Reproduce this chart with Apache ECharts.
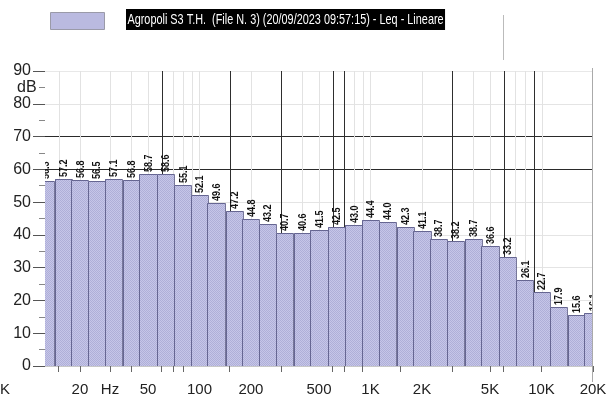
<!DOCTYPE html>
<html><head><meta charset="utf-8">
<script src="https://cdn.jsdelivr.net/npm/echarts@6/dist/echarts.min.js"></script>
<style>html,body{margin:0;padding:0;background:#fff}#c{width:616px;height:400px}</style>
</head><body><div id="c"></div>
<script>
const seriesName = 'Agropoli S3 T.H.  (File N. 3) (20/09/2023 09:57:15) - Leq - Lineare';
const bandFreqs = [12.5,16,20,25,31.5,40,50,63,80,100,125,160,200,250,315,400,500,630,800,1000,1250,1600,2000,2500,3150,4000,5000,6300,8000,10000,12500,16000,20000];
const levels = [56.3,57.2,56.8,56.5,57.1,56.8,58.7,58.6,55.1,52.1,49.6,47.2,44.8,43.2,40.7,40.6,41.5,42.5,43.0,44.4,44.0,42.3,41.1,38.7,38.2,38.7,36.6,33.2,26.1,22.7,17.9,15.6,16.1];
const labelFreqs = [20,30,50,100,200,500,1000,2000,5000,10000,20000];
const labelTexts = ['20','Hz','50','100','200','500','1K','2K','5K','10K','20K'];
const tickFreqs = [15,20,30,40,60,70,80,150,300,600,700,900,1500,3000,5000,6000,10000,20000];
const lightGridFreqs = [15,20,30,40,50,70,80,90,100,200,400,500,800,900,1000,2000,4000,5000,7000,8000,10000];
const darkGridFreqs = [60,150,300,600,700,3000,6000,9000];
const yMin = 0, yMax = 90, yStep = 10;

const FONT = '"Liberation Sans",Arial,sans-serif';
const lg = Math.log10;
const half = 0.05; // half of a 1/3-octave band in log10 units

const pc = document.createElement('canvas'); pc.width = 2; pc.height = 2;
const cx = pc.getContext('2d');
cx.fillStyle = '#c6c6e8'; cx.fillRect(0,0,2,2);
cx.fillStyle = '#afafd8'; cx.fillRect(0,0,1,1); cx.fillRect(1,1,1,1);
const pattern = {image: pc, repeat: 'repeat'};

const chart = echarts.init(document.getElementById('c'), null, {renderer: 'canvas'});
const barData = bandFreqs.map((f,i) => [lg(f), levels[i]]);
const gridData = lightGridFreqs.map(f => [lg(f), 0]).concat(darkGridFreqs.map(f => [lg(f), 1]));

chart.setOption({
  animation: false,
  grid: {left: 45, right: 23, top: 71, bottom: 34},
  xAxis: {
    type: 'value', min: lg(12.5), max: lg(20000),
    axisLine: {show: true, lineStyle: {color: '#c8c8c8'}},
    axisTick: {show: true, length: 6, lineStyle: {color: '#666'}, customValues: tickFreqs.map(lg)},
    axisLabel: {
      customValues: labelFreqs.map(lg), margin: 16,
      fontFamily: FONT, fontSize: 15, color: '#222',
      formatter: v => {
        let best = 0, d = 1e9;
        labelFreqs.forEach((f,i) => { const dd = Math.abs(lg(f) - v); if (dd < d) { d = dd; best = i; } });
        return labelTexts[best];
      }
    },
    splitLine: {show: false}
  },
  yAxis: {
    type: 'value', min: yMin, max: yMax, interval: yStep,
    axisLine: {show: false},
    axisTick: {show: true, length: 12, lineStyle: {color: '#555'}},
    minorTick: {show: true, splitNumber: 2, length: 6, lineStyle: {color: '#888'}},
    axisLabel: {margin: 14, fontFamily: FONT, fontSize: 16, color: '#222'},
    splitLine: {show: true, lineStyle: {width: 1, color: ['#e4e4e4','#e4e4e4','#e4e4e4','#e4e4e4','#e4e4e4','#e4e4e4','#2a2a2a','#2a2a2a','#e4e4e4','#e8e8e8']}}
  },
  series: [
    {
      type: 'custom', name: 'vgrid', z: 1, silent: true, data: gridData,
      renderItem: (params, api) => {
        const p0 = api.coord([api.value(0), yMin]);
        const p1 = api.coord([api.value(0), yMax]);
        const x = Math.round(p0[0]) + 0.5;
        return {type: 'line', shape: {x1: x, y1: p0[1], x2: x, y2: p1[1]},
          style: {stroke: api.value(1) ? '#2e2e2e' : '#e2e2e2', lineWidth: 1}};
      }
    },
    {
      type: 'custom', name: seriesName, z: 3, clip: true, data: barData,
      itemStyle: {color: '#bdbde3'},
      renderItem: (params, api) => {
        const lf = api.value(0), v = api.value(1);
        const tl = api.coord([lf - half, v]);
        const br = api.coord([lf + half, 0]);
        const xl = Math.round(tl[0]), xr = Math.round(br[0]);
        const yt = Math.round(tl[1]), yb = br[1];
        const mid = (tl[0] + br[0]) / 2;
        return {
          type: 'group',
          children: [
            {type: 'rect', shape: {x: xl, y: yt, width: xr - xl, height: yb - yt}, style: {fill: pattern}},
            {type: 'polyline', shape: {points: [[xl + 0.5, yb], [xl + 0.5, yt + 0.5], [xr + 0.5, yt + 0.5], [xr + 0.5, yb]]},
              style: {stroke: '#4a4a78', lineWidth: 1, fill: null, opacity: 0.75}},
            {type: 'text', x: mid + 1, y: yt - 2, rotation: Math.PI / 2, scaleX: 0.9,
              style: {text: v.toFixed(1), font: 'bold 10px ' + FONT, fill: '#111', align: 'left', verticalAlign: 'middle'}}
          ]
        };
      }
    }
  ]
});

const pTop = chart.convertToPixel({gridIndex: 0}, [lg(20000), yMax]);
const pBot = chart.convertToPixel({gridIndex: 0}, [lg(20000), yMin]);
const xr = Math.round(pTop[0]) - 0.5;
chart.setOption({graphic: [
  {type: 'rect', left: 50, top: 12, shape: {width: 54, height: 17}, style: {fill: pattern, stroke: '#9a9aa8', lineWidth: 1}},
  {type: 'text', x: 126, y: 9, scaleX: 0.725,
    style: {text: seriesName, font: '15px ' + FONT, fill: '#fff', backgroundColor: '#000', padding: [3, 2, 3, 2]}},
  {type: 'text', left: 17, top: 80, style: {text: 'dB', font: '16px ' + FONT, fill: '#222'}},
  {type: 'text', left: 0, top: 382, style: {text: 'K', font: '15px ' + FONT, fill: '#222'}},
  {type: 'line', shape: {x1: 503.5, y1: 15, x2: 503.5, y2: 60}, style: {stroke: '#bbb', lineWidth: 1}},
  {type: 'line', z: 10, shape: {x1: xr, y1: pTop[1] - 3, x2: xr, y2: pBot[1] + 16}, style: {stroke: '#aaa', lineWidth: 1}}
]});
</script></body></html>
